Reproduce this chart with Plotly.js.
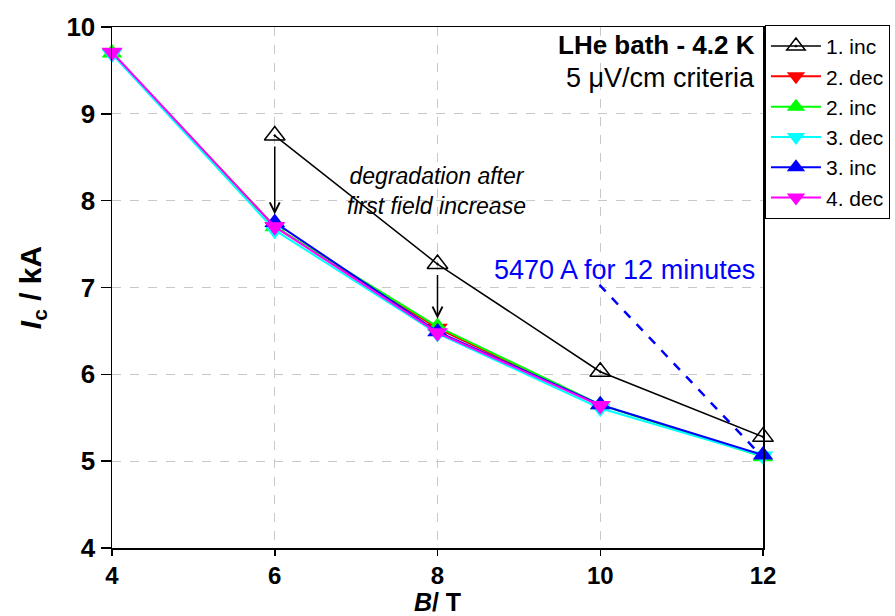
<!DOCTYPE html>
<html>
<head>
<meta charset="utf-8">
<script src="https://cdn.plot.ly/plotly-3.0.1.min.js"></script>
<style>html,body{margin:0;padding:0;background:#fff;}#chart{width:895px;height:616px;}</style>
</head>
<body>
<div id="chart"></div>
<script>
// Data
const names = ["1. inc", "2. dec", "2. inc", "3. dec", "3. inc", "4. dec"];
const x_1inc = [6, 8, 10, 12];
const y_1inc = [8.75, 7.27, 6.03, 5.28];
const x_2dec = [10, 8, 6, 4];
const y_2dec = [5.64, 6.53, 7.70, 9.70];
const x_2inc = [4, 6, 8, 10, 12];
const y_2inc = [9.70, 7.70, 6.55, 5.65, 5.05];
const x_3dec = [12, 10, 8, 6, 4];
const y_3dec = [5.06, 5.61, 6.47, 7.66, 9.69];
const x_3inc = [6, 8, 10, 12];
const y_3inc = [7.75, 6.49, 5.65, 5.07];
const x_4dec = [10, 8, 6, 4];
const y_4dec = [5.64, 6.48, 7.70, 9.71];

const xs = [x_1inc, x_2dec, x_2inc, x_3dec, x_3inc, x_4dec];
const ys = [y_1inc, y_2dec, y_2inc, y_3dec, y_3inc, y_4dec];
const colors = ["#000000", "#ff0000", "#00ff00", "#00ffff", "#0000ff", "#ff00ff"];
const symbols = ["triangle-up-open-dot", "triangle-down", "triangle-up", "triangle-down", "triangle-up", "triangle-down"];

const traces = names.map((n, i) => ({
  x: xs[i], y: ys[i], name: n, type: "scatter", mode: "lines+markers",
  cliponaxis: false,
  line: {color: colors[i], width: i === 0 ? 1.5 : 2},
  marker: {symbol: symbols[i], size: 18, color: colors[i],
           line: {color: colors[i], width: i === 0 ? 1.5 : 0}}
}));

const fontFam = "Liberation Sans, Arial, sans-serif";
const layout = {
  width: 895, height: 616,
  margin: {l: 112, r: 132, t: 27, b: 68, autoexpand: false},
  paper_bgcolor: "#fff", plot_bgcolor: "#fff",
  font: {family: fontFam, color: "#000"},
  showlegend: true,
  legend: {x: 1.003, y: 1.004, xanchor: "left", yanchor: "top",
           bordercolor: "#000", borderwidth: 1, bgcolor: "#fff",
           font: {family: fontFam, size: 21}, itemwidth: 50,
           tracegroupgap: 0},
  xaxis: {range: [4, 12], tickvals: [4, 6, 8, 10, 12], ticktext: ["4", "6", "8", "10", "12"],
          automargin: false,
          showline: true, linecolor: "#000", linewidth: 1.5, mirror: true,
          ticks: "outside", ticklen: 6, tickwidth: 1.5, tickcolor: "#000",
          showgrid: true, gridcolor: "#c8c8c8", griddash: "dash", gridwidth: 1,
          zeroline: false,
          tickfont: {family: fontFam, size: 24, weight: "bold"},
          title: {text: "<i>B</i>/ T", standoff: 3, font: {family: fontFam, size: 25, weight: "bold"}}},
  yaxis: {range: [4, 10], tickvals: [4, 5, 6, 7, 8, 9, 10],
          automargin: false,
          showline: true, linecolor: "#000", linewidth: 1.5, mirror: true,
          ticks: "outside", ticklen: 10, tickwidth: 1.5, tickcolor: "#000",
          showgrid: true, gridcolor: "#c8c8c8", griddash: "dash", gridwidth: 1,
          zeroline: false,
          tickfont: {family: fontFam, size: 26, weight: "bold"},
          title: {text: "<i>I</i><sub>c</sub> / kA", standoff: 16, font: {family: fontFam, size: 30, weight: "bold"}}},
  shapes: [
    {type: "line", xref: "x", yref: "y", x0: 9.99, y0: 7.03, x1: 11.9, y1: 5.14,
     line: {color: "#0000ff", width: 2.5, dash: "dash"}}
  ],
  annotations: [
    {xref: "paper", yref: "paper", x: 0.991, y: 0.965, xanchor: "right", yanchor: "middle",
     text: "<b>LHe bath - 4.2 K</b>", showarrow: false, font: {family: fontFam, size: 26, color: "#000"}},
    {xref: "paper", yref: "paper", x: 0.991, y: 0.902, xanchor: "right", yanchor: "middle",
     text: "5 μV/cm criteria", showarrow: false, font: {family: fontFam, size: 27, color: "#000"}},
    {xref: "x", yref: "y", x: 7.99, y: 8.11, xanchor: "center", yanchor: "middle",
     text: "<i>degradation after<br>first field increase</i>", showarrow: false, align: "center",
     font: {family: fontFam, size: 23, color: "#000"}},
    {xref: "x", yref: "y", x: 10.30, y: 7.2, xanchor: "center", yanchor: "middle",
     text: "5470 A for 12 minutes", showarrow: false, font: {family: fontFam, size: 27, color: "#0000ff"}},
    {xref: "x", yref: "y", axref: "x", ayref: "y", x: 6, y: 7.84, ax: 6, ay: 8.64,
     showarrow: true, arrowhead: 5, arrowsize: 1.3, arrowwidth: 1.5, arrowcolor: "#000", text: ""},
    {xref: "x", yref: "y", axref: "x", ayref: "y", x: 8, y: 6.64, ax: 8, ay: 7.16,
     showarrow: true, arrowhead: 5, arrowsize: 1.3, arrowwidth: 1.5, arrowcolor: "#000", text: ""}
  ]
};

Plotly.newPlot("chart", traces, layout, {displayModeBar: false, staticPlot: true});
</script>
</body>
</html>
